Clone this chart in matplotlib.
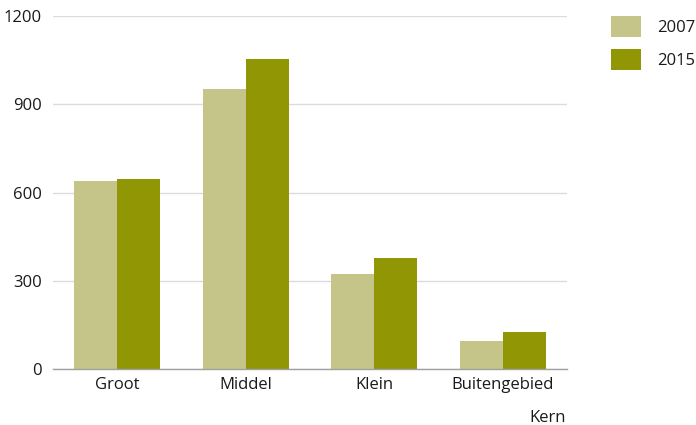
import matplotlib
matplotlib.use("Agg")
import matplotlib.pyplot as plt
import numpy as np
from matplotlib.patches import Patch

categories = ["Groot", "Middel", "Klein", "Buitengebied"]
series_names = ["2007", "2015"]
values_2007 = [639, 951, 324, 96]
values_2015 = [645, 1053, 376, 127]
y_ticks = [0, 300, 600, 900, 1200]
x_title = "Kern"

colors = ["#c5c589", "#919605"]

plt.rcParams["font.family"] = ["Open Sans", "DejaVu Sans"]

fig = plt.figure(figsize=(6.96, 4.25), dpi=100)
ax = fig.add_axes([0.076, 0.132, 0.739, 0.830])

x = np.arange(len(categories))
w = 0.335
ax.bar(x - w / 2, values_2007, width=w, color=colors[0], zorder=3)
ax.bar(x + w / 2, values_2015, width=w, color=colors[1], zorder=3)

ax.set_xlim(-0.5, len(categories) - 0.5)
ax.set_ylim(0, 1200)
ax.set_yticks(y_ticks)
ax.set_yticklabels([str(t) for t in y_ticks])
ax.set_xticks(x)
ax.set_xticklabels(categories)
ax.tick_params(axis="both", length=0, labelsize=12, colors="#1a1a1a")
ax.tick_params(axis="x", pad=6)
ax.tick_params(axis="y", pad=8)

ax.grid(axis="y", color="#dcdcdc", linewidth=1, zorder=0)
for s in ["top", "right", "left"]:
    ax.spines[s].set_visible(False)
ax.spines["bottom"].set_color("#a0a0a0")
ax.spines["bottom"].set_linewidth(1)
ax.spines["bottom"].set_zorder(4)

fig.text(0.813, 0.017, x_title, ha="right", va="center", fontsize=12, color="#1a1a1a")

handles = [Patch(facecolor=c, edgecolor="none") for c in colors]
fig.legend(handles, series_names, loc="upper left", bbox_to_anchor=(0.878, 0.962),
           frameon=False, fontsize=12, handlelength=1.8, handleheight=1.55,
           handletextpad=0.95, labelspacing=0.7, borderaxespad=0, borderpad=0,
           labelcolor="#1a1a1a")

fig.savefig("out.png", dpi=100)
